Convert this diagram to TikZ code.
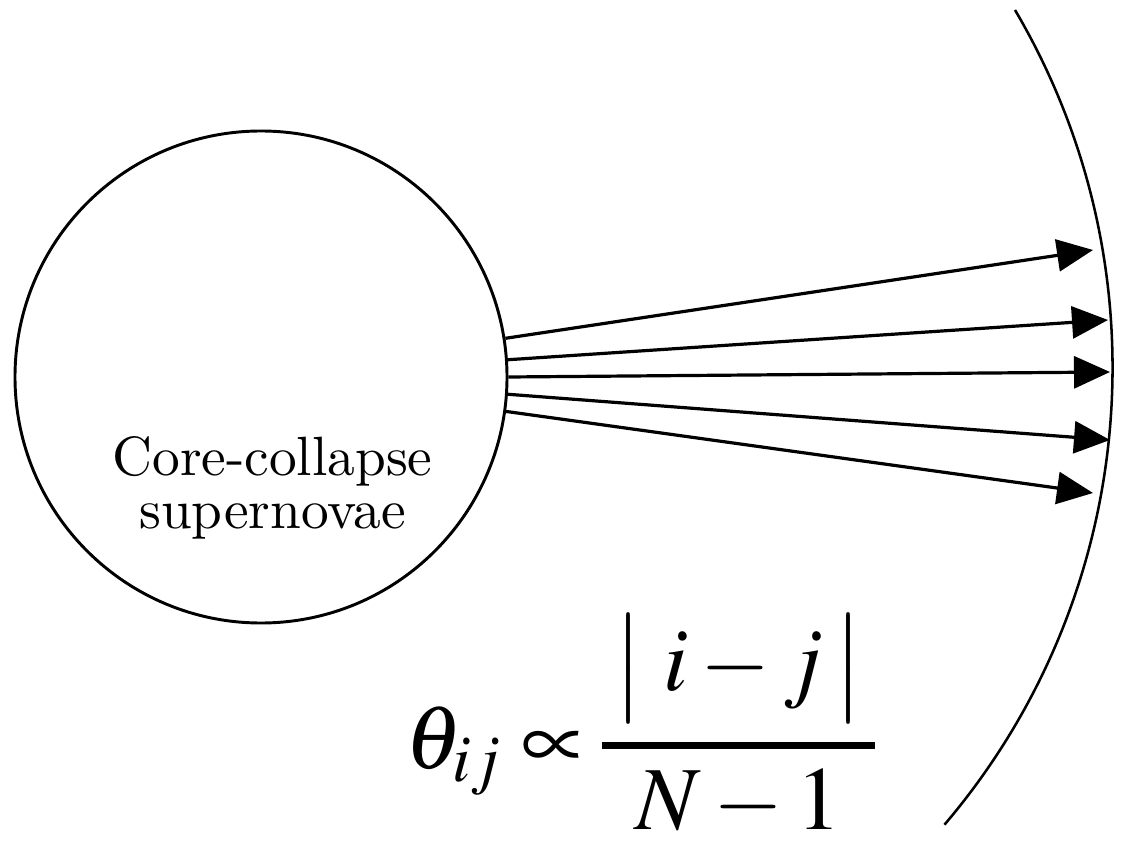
\documentclass[tikz,border=0pt]{standalone}
\usepackage{amsmath}
\usepackage{mathptmx}
\renewcommand{\rmdefault}{lmr}
\usetikzlibrary{arrows.meta}
\font\lmten="[lmroman10-regular]:mapping=tex-text" at 41.5pt
\newcommand{\lblfont}{\lmten\baselineskip=39.75pt\relax}

\begin{document}
\begin{tikzpicture}[x=0.75pt,y=0.75pt,yscale=-1,xscale=1,
  ray/.style={line width=2.4pt,-{Triangle[length=27pt,width=24pt]}}]
\useasboundingbox (0,0) rectangle (1127,841);

%Shape: Circle
\node (sn) [draw, circle, line width=2.2pt, inner sep=0pt, minimum size=369pt] at (261,377) {};
%Shape: Arc (detector)
\coordinate (arctop) at (1015,10);
\draw [line width=1.9pt] (arctop) arc[start angle=-30.5, end angle=40.4, radius=705];

%Rays
\foreach \ang/\tx/\ty [count=\k] in {9.0/1093/250, 4.6/1108/320, 0.5/1110/372, -4.6/1110/440, -8.5/1093/493} {
  \coordinate (tip\k) at (\tx,\ty);
  \draw [ray] (sn.\ang) -- (tip\k);
}

% Text Node
\node (lbl) [inner sep=0pt, align=center, font=\lblfont] at (272.5,487.7) {Core-collapse\\supernovae};
% Text Node
\node (eq) [anchor=base west, inner sep=0pt, font=\fontsize{67.5}{74}\selectfont] at (405,768) {$\displaystyle \theta_{ij} \propto \mkern-1mu \genfrac{}{}{5pt}{0}{\hspace{0.12em}\bigl|\;i-j\,\bigr|\hspace{0.12em}}{N-1}$};

\end{tikzpicture}
\end{document}
